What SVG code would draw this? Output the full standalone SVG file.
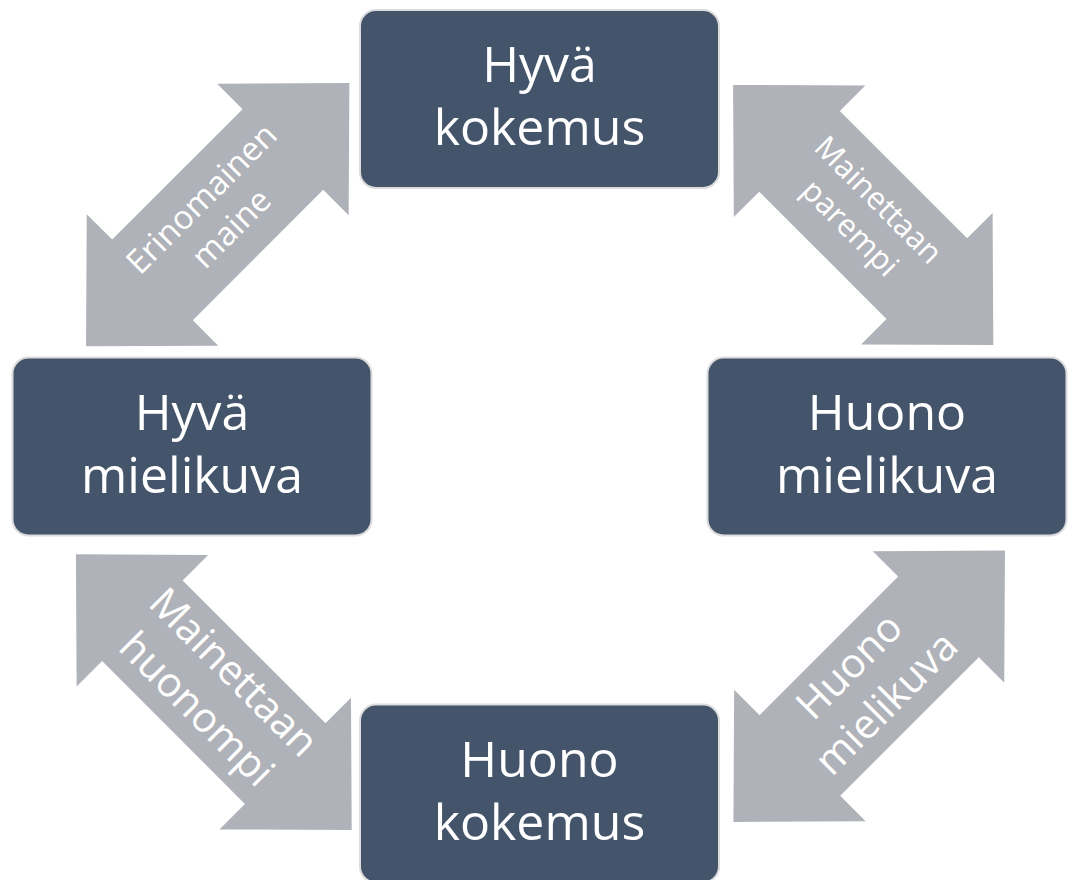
<svg xmlns="http://www.w3.org/2000/svg" width="1069" height="880" viewBox="0 0 1069 880">
<style>
.box{fill:#44546a;stroke:#dcdcdc;stroke-width:2}
.arrow{fill:#afb2b8}
.nt{font-family:"Open Sans","Liberation Sans",sans-serif;font-size:50px;fill:#ffffff;text-anchor:middle}
.at{font-family:"Open Sans","Liberation Sans",sans-serif;fill:#ffffff;text-anchor:middle}
</style>
<rect width="1069" height="880" fill="#ffffff"/>
<g id="connectors">
  <g id="arrow-tl" transform="translate(217.7,214.7) rotate(-45)">
    <polygon class="arrow" points="186.2,0 92.2,-93 92.2,-57 -92.2,-57 -92.2,-93 -186.2,0 -92.2,93 -92.2,57 92.2,57 92.2,93"/>
    <text class="at" font-size="33" y="-11.5">Erinomainen</text>
    <text class="at" font-size="33" y="30.5">maine</text>
  </g>
  <g id="arrow-tr" transform="translate(863.2,215) rotate(45)">
    <polygon class="arrow" points="184,0 90,-93 90,-57 -90,-57 -90,-93 -184,0 -90,93 -90,57 90,57 90,93"/>
    <text class="at" font-size="31" y="-10.8">Mainettaan</text>
    <text class="at" font-size="31" y="28.8">parempi</text>
  </g>
  <g id="arrow-bl" transform="translate(213.8,692.2) rotate(45)">
    <polygon class="arrow" points="195,0 101,-93 101,-57 -101,-57 -101,-93 -195,0 -101,93 -101,57 101,57 101,93"/>
    <text class="at" font-size="41" y="-14.3">Mainettaan</text>
    <text class="at" font-size="41" y="38">huonompi</text>
  </g>
  <g id="arrow-br" transform="translate(869.2,686.2) rotate(-45)">
    <polygon class="arrow" points="192,0 98,-93 98,-57 -98,-57 -98,-93 -192,0 -98,93 -98,57 98,57 98,93"/>
    <text class="at" font-size="41" y="-14.3">Huono</text>
    <text class="at" font-size="41" y="38">mielikuva</text>
  </g>
</g>
<g id="node-hyva-kokemus">
  <rect class="box" x="360" y="10" width="359" height="178" rx="16"/>
  <text class="nt" x="539.5" y="82">Hyvä</text>
  <text class="nt" x="539.5" y="145">kokemus</text>
</g>
<g id="node-hyva-mielikuva">
  <rect class="box" x="12.5" y="357.5" width="359" height="178" rx="16"/>
  <text class="nt" x="192" y="430">Hyvä</text>
  <text class="nt" x="192" y="493">mielikuva</text>
</g>
<g id="node-huono-mielikuva">
  <rect class="box" x="707.5" y="357.5" width="359" height="178" rx="16"/>
  <text class="nt" x="887" y="430">Huono</text>
  <text class="nt" x="887" y="493">mielikuva</text>
</g>
<g id="node-huono-kokemus">
  <rect class="box" x="360" y="704.5" width="359" height="178" rx="16"/>
  <text class="nt" x="539.5" y="777">Huono</text>
  <text class="nt" x="539.5" y="840">kokemus</text>
</g>
</svg>
